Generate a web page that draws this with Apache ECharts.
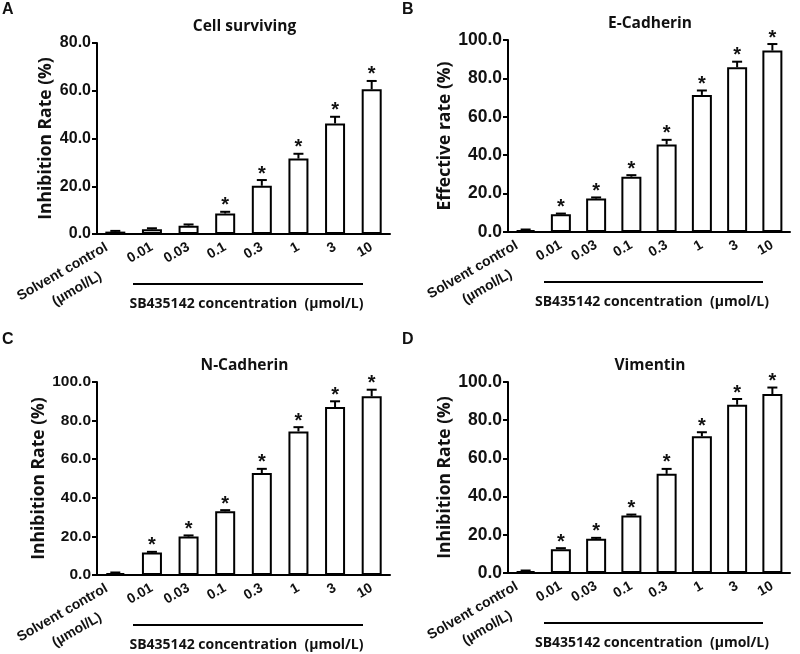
<!DOCTYPE html>
<html>
<head>
<meta charset="utf-8">
<script src="https://cdn.jsdelivr.net/npm/echarts@6/dist/echarts.min.js"></script>
<style>
  html, body { margin: 0; padding: 0; background: #fff; }
  #chart { width: 800px; height: 654px; }
</style>
</head>
<body>
<div id="chart"></div>
<script>
// Doses along the x axis (same for every panel)
const categories = ['Solvent control\n(µmol/L)', '0.01', '0.03', '0.1', '0.3', '1', '3', '10'];

// Panel A - cell surviving
const cellSurviving = [1.0, 2.0, 3.5, 8.6, 20.2, 31.6, 46.3, 60.6];
const cellSurvivingErr = [0.3, 0.4, 0.5, 0.7, 2.4, 2.0, 2.8, 3.5];
const cellSurvivingSig = [false, false, false, true, true, true, true, true];

// Panel B - E-Cadherin
const eCadherin = [1.0, 9.2, 17.4, 28.8, 45.6, 71.4, 85.8, 94.5];
const eCadherinErr = [0.3, 0.4, 0.6, 0.8, 2.4, 2.3, 2.9, 3.4];
const eCadherinSig = [false, true, true, true, true, true, true, true];

// Panel C - N-Cadherin
const nCadherin = [1.0, 11.6, 19.9, 33.0, 52.8, 74.4, 87.0, 92.6];
const nCadherinErr = [0.3, 0.4, 0.6, 0.6, 2.2, 2.2, 3.0, 3.4];
const nCadherinSig = [false, true, true, true, true, true, true, true];

// Panel D - Vimentin
const vimentin = [1.0, 12.5, 17.9, 30.1, 51.9, 71.6, 88.1, 93.7];
const vimentinErr = [0.3, 0.5, 0.5, 0.5, 2.6, 2.1, 3.0, 3.4];
const vimentinSig = [false, true, true, true, true, true, true, true];

const panelTitles = ['Cell surviving', 'E-Cadherin', 'N-Cadherin', 'Vimentin'];
const yNames = ['Inhibition Rate (%)', 'Effective rate (%)', 'Inhibition Rate (%)', 'Inhibition Rate (%)'];
const yMax = [80, 100, 100, 100];
const groupLabel = 'SB435142 concentration  (µmol/L)';

const TICK_FONT = '"Liberation Sans", Arial, sans-serif';
const TEXT_FONT = '"Open Sans", "Noto Sans", sans-serif';

const panels = [
  { values: cellSurviving, errs: cellSurvivingErr, sig: cellSurvivingSig },
  { values: eCadherin, errs: eCadherinErr, sig: eCadherinSig },
  { values: nCadherin, errs: nCadherinErr, sig: nCadherinSig },
  { values: vimentin, errs: vimentinErr, sig: vimentinSig }
];

// grid boxes (left, top, width, height) - panels are not all scaled the same
const grids = [
  { left: 97, top: 43, width: 293, height: 191 },
  { left: 508, top: 40, width: 282, height: 192 },
  { left: 97, top: 382, width: 293, height: 193 },
  { left: 508, top: 382, width: 282, height: 191 }
];
const tickFontSize = [16, 17.5, 15.5, 17.5];
const nameGaps = [42, 50, 42, 48];

/**
 * Error bar (upper whisker + cap) with optional asterisk
 */
function errorBarRenderer(sig) {
  return function (params, api) {
    const idx = api.value(0);
    const v = api.value(1);
    const e = api.value(2);
    const base = api.coord([idx, v]);
    const top = api.coord([idx, v + e]);
    const cap = 5;
    const children = [
      { type: 'line', shape: { x1: base[0], y1: base[1], x2: top[0], y2: top[1] },
        style: { stroke: '#000', lineWidth: 2 } },
      { type: 'line', shape: { x1: top[0] - cap, y1: top[1], x2: top[0] + cap, y2: top[1] },
        style: { stroke: '#000', lineWidth: 2 } }
    ];
    if (sig[idx]) {
      children.push({
        type: 'text',
        style: {
          text: '*', x: top[0], y: top[1] + 4,
          fill: '#111', font: 'bold 20px ' + TICK_FONT,
          textAlign: 'center', textVerticalAlign: 'bottom'
        }
      });
    }
    return { type: 'group', children };
  };
}

// two-line control label: unequal line heights keep the first line next to
// its tick and drop the unit line below it, shifted left as in the figure
function xLabel(v) {
  if (v.indexOf('\n') < 0) return v;
  const parts = v.split('\n');
  return '{a|' + parts[0] + '  }\n{b|' + parts[1] + '       }';
}

const labelFont = { fontFamily: TICK_FONT, fontWeight: 'bold', fontSize: 14, color: '#111' };

const option = {
  backgroundColor: '#fff',
  animation: false,
  grid: grids.map(g => ({ ...g, containLabel: false, outerBoundsMode: 'none' })),
  xAxis: grids.map((g, i) => ({
    type: 'category',
    gridIndex: i,
    data: categories,
    axisLine: { lineStyle: { color: '#000', width: 2 } },
    axisTick: { alignWithLabel: true, length: 5, lineStyle: { color: '#000', width: 2 } },
    axisLabel: {
      interval: 0,
      rotate: 30,
      margin: 12,
      ...labelFont,
      formatter: xLabel,
      rich: {
        a: { ...labelFont, lineHeight: 36 },
        b: { ...labelFont, lineHeight: 8 }
      }
    }
  })),
  yAxis: grids.map((g, i) => ({
    type: 'value',
    gridIndex: i,
    min: 0,
    max: yMax[i],
    interval: 20,
    name: yNames[i],
    nameLocation: 'middle',
    nameRotate: 90,
    nameGap: nameGaps[i],
    nameTextStyle: { fontFamily: TEXT_FONT, fontWeight: 'bold', fontSize: 17.5, color: '#111' },
    axisLine: { show: true, lineStyle: { color: '#000', width: 2 } },
    axisTick: { show: true, length: 5, lineStyle: { color: '#000', width: 2 } },
    splitLine: { show: false },
    axisLabel: {
      margin: 6,
      color: '#111',
      fontFamily: TICK_FONT,
      fontWeight: 'bold',
      fontSize: tickFontSize[i],
      formatter: v => v.toFixed(1)
    }
  })),
  series: []
};

panels.forEach((p, i) => {
  option.series.push({
    type: 'bar',
    xAxisIndex: i,
    yAxisIndex: i,
    data: p.values,
    barWidth: 20,
    itemStyle: { color: '#fff', borderColor: '#000', borderWidth: 2 }
  });
  option.series.push({
    type: 'custom',
    xAxisIndex: i,
    yAxisIndex: i,
    renderItem: errorBarRenderer(p.sig),
    encode: { x: 0, y: 1 },
    data: p.values.map((v, k) => [k, v, p.errs[k]]),
    z: 5
  });
});

// panel letters, titles, group brackets
const letters = ['A', 'B', 'C', 'D'];
const graphics = [];
grids.forEach((g, i) => {
  const col = i % 2;
  const row = Math.floor(i / 2);
  graphics.push({
    type: 'text', left: col * 400 + 2, top: row === 0 ? 2 : 332,
    style: { text: letters[i], font: 'bold 16px ' + TICK_FONT, fill: '#111' }
  });
  graphics.push({
    type: 'text', x: g.left + g.width / 2 + 1, y: g.top - 16,
    style: { text: panelTitles[i], font: 'bold 15.5px ' + TEXT_FONT, fill: '#111',
      textAlign: 'center', textVerticalAlign: 'middle' }
  });
  const lineY = g.top + g.height + 50;
  graphics.push({
    type: 'line',
    shape: { x1: g.left + 36, y1: lineY, x2: g.left + g.width - 27, y2: lineY },
    style: { stroke: '#000', lineWidth: 2 }
  });
  graphics.push({
    type: 'text', x: g.left + g.width / 2 + 3, y: lineY + 20,
    style: { text: groupLabel, font: 'bold 14px ' + TEXT_FONT, fill: '#111',
      textAlign: 'center', textVerticalAlign: 'middle' }
  });
});
option.graphic = graphics;

const chart = echarts.init(document.getElementById('chart'));
chart.setOption(option);
</script>
</body>
</html>
